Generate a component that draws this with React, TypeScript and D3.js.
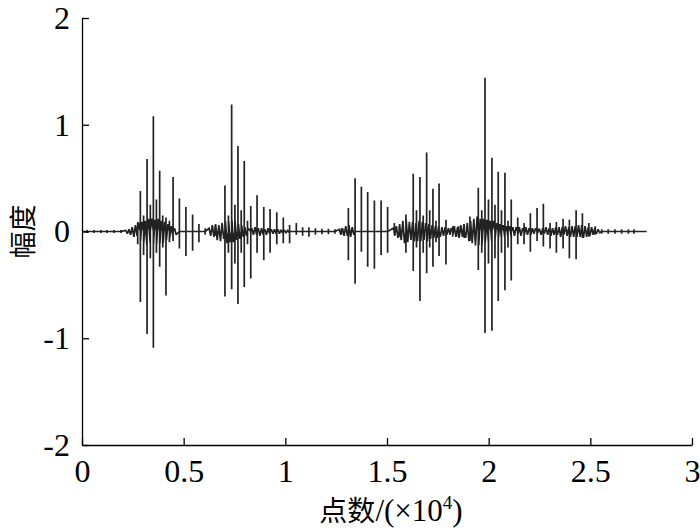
import React, { useEffect, useRef } from "react";
import * as d3 from "d3";

// axis ticks
const xTicks = [0, 0.5, 1, 1.5, 2, 2.5, 3];
const yTicks = [-2, -1, 0, 1, 2];
const signalEnd = 2.777;

// main spikes: position (x10^4), positive peak, negative peak
const spikePos = [
  0.025, 0.059, 0.093, 0.123, 0.157, 0.192,
  0.274, 0.287, 0.303, 0.32, 0.336, 0.351, 0.366, 0.382, 0.397, 0.413, 0.43, 0.448, 0.479, 0.511, 0.544, 0.575, 0.606,
  0.654, 0.703, 0.72, 0.736, 0.752, 0.767, 0.783, 0.798, 0.814, 0.83, 0.861, 0.894, 0.925, 0.958, 0.99, 1.021, 1.054,
  1.085, 1.116, 1.148, 1.18, 1.212, 1.244, 1.276,
  1.31, 1.343, 1.374, 1.405, 1.438, 1.471, 1.503, 1.536, 1.56, 1.593,
  1.629, 1.645, 1.662, 1.678, 1.695, 1.71, 1.726, 1.741, 1.756, 1.79, 1.823, 1.851, 1.88, 1.908,
  1.949, 1.966, 1.982, 1.999, 2.016, 2.031, 2.047, 2.063, 2.08, 2.095, 2.111, 2.143, 2.174, 2.205, 2.238, 2.269,
  2.302, 2.333, 2.366, 2.397, 2.43, 2.461, 2.493, 2.524, 2.556, 2.588, 2.621, 2.654, 2.687, 2.715,
];
const spikeHigh = [
  0.015, 0.015, 0.015, 0.015, 0.015, 0.015,
  0.09, 0.38, 0.15, 0.68, 0.25, 1.08, 0.3, 0.57, 0.15, 0.13, 0.1, 0.51, 0.31, 0.23, 0.16, 0.07, 0.03,
  0.05, 0.43, 0.15, 1.19, 0.25, 0.8, 0.2, 0.66, 0.1, 0.24, 0.34, 0.23, 0.21, 0.18, 0.13, 0.06, 0.08,
  0.04, 0.04, 0.03, 0.025, 0.025, 0.02, 0.03,
  0.22, 0.5, 0.42, 0.37, 0.29, 0.29, 0.23, 0.08, 0.05, 0.16,
  0.54, 0.2, 0.51, 0.15, 0.74, 0.2, 0.4, 0.1, 0.45, 0.11, 0.05, 0.05, 0.06, 0.14,
  0.41, 0.2, 1.44, 0.3, 0.69, 0.25, 0.56, 0.2, 0.55, 0.1, 0.3, 0.13, 0.08, 0.17, 0.22, 0.26,
  0.08, 0.09, 0.12, 0.11, 0.2, 0.17, 0.08, 0.05, 0.02, 0.02, 0.02, 0.02, 0.02, 0.02,
];
const spikeLow = [
  -0.015, -0.015, -0.015, -0.015, -0.015, -0.015,
  -0.12, -0.66, -0.22, -0.96, -0.25, -1.09, -0.2, -0.33, -0.15, -0.6, -0.1, -0.09, -0.16, -0.23, -0.18, -0.1, -0.03,
  -0.04, -0.61, -0.2, -0.54, -0.3, -0.68, -0.2, -0.52, -0.12, -0.44, -0.2, -0.27, -0.2, -0.12, -0.11, -0.11, -0.03,
  -0.04, -0.05, -0.03, -0.025, -0.025, -0.02, -0.03,
  -0.27, -0.49, -0.19, -0.33, -0.35, -0.22, -0.2, -0.03, -0.05, -0.2,
  -0.37, -0.15, -0.65, -0.2, -0.39, -0.15, -0.33, -0.1, -0.23, -0.31, -0.05, -0.05, -0.06, -0.09,
  -0.36, -0.2, -0.95, -0.3, -0.93, -0.25, -0.65, -0.2, -0.55, -0.15, -0.46, -0.12, -0.12, -0.19, -0.09, -0.14,
  -0.16, -0.2, -0.16, -0.25, -0.26, -0.06, -0.05, -0.03, -0.02, -0.02, -0.02, -0.02, -0.02, -0.02,
];

// dense low-level oscillation inside the bursts (sample spacing 0.008)
const blobStep = 0.008;
const blobStarts = [0.215, 0.625, 0.835, 1.265, 1.53, 1.815, 2.25];
const blobValues = [
  [0.01, -0.02, 0.02, -0.03, 0.04, -0.05, 0.06, -0.04, 0.08, -0.1, 0.09, -0.12, 0.1, -0.13, 0.12, -0.11,
    0.12, -0.13, 0.11, -0.12, 0.12, -0.11, 0.1, -0.11, 0.09, -0.08, 0.07, -0.06, 0.05, -0.04, 0.03, -0.03],
  [0.03, -0.04, 0.06, -0.05, 0.07, -0.08, 0.06, -0.09, 0.08, -0.07, 0.1, -0.11, 0.1, -0.1, 0.11, -0.1,
    0.09, -0.08, 0.07, -0.07, 0.06, -0.05, 0.04, -0.04, 0.03],
  [0.03, -0.03, 0.04, -0.03, 0.03, -0.04, 0.03, -0.03, 0.02, -0.03, 0.03, -0.02, 0.02, -0.02, 0.02, -0.02,
    0.02, -0.02, 0.015, -0.015, 0.015, -0.015, 0.01, -0.01],
  [0.02, -0.03, 0.03, -0.04, 0.05, -0.04, 0.06, -0.05, 0.04, -0.03],
  [0.03, -0.04, 0.05, -0.06, 0.07, -0.08, 0.1, -0.11, 0.12, -0.1, 0.09, -0.08, 0.09, -0.09, 0.08, -0.09,
    0.1, -0.09, 0.09, -0.08, 0.08, -0.09, 0.07, -0.07, 0.06, -0.06, 0.05, -0.06, 0.05, -0.05, 0.04, -0.04,
    0.04, -0.03, 0.03, -0.03],
  [0.03, -0.04, 0.05, -0.05, 0.04, -0.06, 0.06, -0.05, 0.07, -0.06, 0.08, -0.09, 0.1, -0.11, 0.12, -0.13,
    0.14, -0.13, 0.12, -0.13, 0.12, -0.11, 0.11, -0.1, 0.1, -0.09, 0.1, -0.08, 0.08, -0.07, 0.07, -0.06,
    0.06, -0.05, 0.05, -0.05, 0.05, -0.05, 0.04, -0.04, 0.04, -0.03, 0.04, -0.04, 0.03, -0.03, 0.04, -0.03,
    0.03, -0.03, 0.03, -0.02, 0.03, -0.02, 0.02],
  [0.02, -0.03, 0.03, -0.02, 0.04, -0.03, 0.03, -0.04, 0.03, -0.03, 0.04, -0.03, 0.04, -0.05, 0.04, -0.03,
    0.05, -0.04, 0.04, -0.05, 0.05, -0.05, 0.05, -0.05, 0.06, -0.05, 0.06, -0.06, 0.05, -0.05, 0.04, -0.04,
    0.04, -0.03, 0.03, -0.02, 0.02, -0.01],
];

const W = 700;
const H = 530;
const margin = { top: 18, right: 8, bottom: 85, left: 82 };
const serif = "'Liberation Serif', 'Times New Roman', serif";
const cjk = "'Noto Sans CJK SC', 'Liberation Serif', serif";

export default function App() {
  const ref = useRef<SVGSVGElement>(null);

  useEffect(() => {
    const svg = d3.select(ref.current);
    svg.selectAll("*").remove();

    const x = d3.scaleLinear().domain([0, 3]).range([margin.left, W - margin.right]);
    const y = d3.scaleLinear().domain([-2, 2]).range([H - margin.bottom, margin.top]);

    // collect signal points
    const pts: [number, number][] = [[0, 0]];
    spikePos.forEach((p, i) => {
      pts.push([p, 0], [p, spikeHigh[i]], [p, spikeLow[i]], [p, 0]);
    });
    blobValues.forEach((vals, b) => {
      vals.forEach((v, j) => pts.push([blobStarts[b] + j * blobStep, v]));
    });
    pts.sort((a, b) => a[0] - b[0]);
    pts.push([signalEnd, 0]);

    const line = d3
      .line<[number, number]>()
      .x((d) => x(d[0]))
      .y((d) => y(d[1]));

    svg.append("path")
      .datum(pts)
      .attr("fill", "none")
      .attr("stroke", "#222")
      .attr("stroke-width", 1.7)
      .attr("stroke-linejoin", "miter")
      .attr("stroke-miterlimit", 2)
      .attr("d", line);

    // x-axis
    const gx = svg.append("g")
      .attr("transform", "translate(0," + (H - margin.bottom) + ")")
      .call(
        d3.axisBottom(x)
          .tickValues(xTicks)
          .tickFormat((d) => String(d))
          .tickSizeInner(-7)
          .tickSizeOuter(0)
          .tickPadding(14)
      );

    // y-axis
    const gy = svg.append("g")
      .attr("transform", "translate(" + margin.left + ",0)")
      .call(
        d3.axisLeft(y)
          .tickValues(yTicks)
          .tickFormat((d) => String(d))
          .tickSizeInner(-7)
          .tickSizeOuter(0)
          .tickPadding(12)
      );

    [gx, gy].forEach((g) => {
      g.select(".domain").attr("stroke", "#000").attr("stroke-width", 1.3);
      g.selectAll(".tick line").attr("stroke", "#000").attr("stroke-width", 1.3);
      g.selectAll("text")
        .attr("font-family", serif)
        .attr("font-size", 32)
        .attr("fill", "#000");
    });

    // axis titles
    const xt = svg.append("text")
      .attr("x", 391)
      .attr("y", 521)
      .attr("text-anchor", "middle")
      .attr("fill", "#000");
    xt.append("tspan").attr("font-family", cjk).attr("font-size", 28).text("点数");
    xt.append("tspan").attr("font-family", serif).attr("font-size", 31).text("/(×10");
    xt.append("tspan").attr("font-family", serif).attr("font-size", 19).attr("dy", -12).text("4");
    xt.append("tspan").attr("font-family", serif).attr("font-size", 31).attr("dy", 12).text(")");

    svg.append("text")
      .attr("transform", "translate(33," + y(0) + ") rotate(-90)")
      .attr("text-anchor", "middle")
      .attr("font-family", cjk)
      .attr("font-size", 27)
      .attr("fill", "#000")
      .text("幅度");
  }, []);

  return (
    <svg
      ref={ref}
      width={W}
      height={H}
      style={{ position: "absolute", left: 0, top: 0, background: "#fff" }}
    ></svg>
  );
}
